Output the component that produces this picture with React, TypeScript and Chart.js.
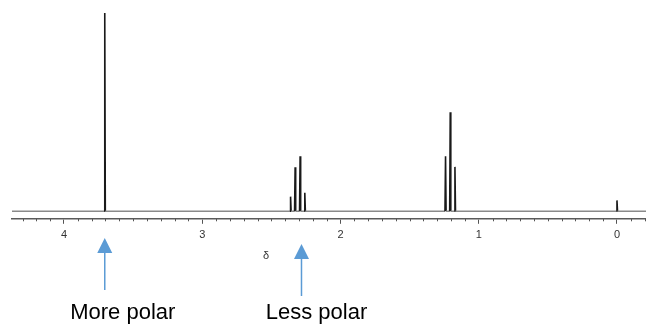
import React, { useEffect, useRef } from 'react';
import { Chart, registerables } from 'chart.js';

Chart.register(...registerables);

// Chemical shifts (ppm) and relative intensities of the stick peaks
const peakShifts = [3.705, 2.361, 2.328, 2.292, 2.258, 1.24, 1.206, 1.172, 0.0];
const peakHeights = [100, 7.4, 22.2, 27.7, 9.3, 27.7, 49.9, 22.4, 5.5];

// Axis
const majorTicks = [4, 3, 2, 1, 0];
const tickLabels = ['4', '3', '2', '1', '0'];
const axisTitle = 'δ';
const X_MIN = -0.21;
const X_MAX = 4.376;
const MINOR_STEP = 0.1;

// Annotations
const arrowShifts = [3.705, 2.282];
const arrowLabels = ['More polar', 'Less polar'];

const STICK_HALF = 0.004;

function buildPoints() {
  const order = peakShifts.map((_, i) => i).sort((a, b) => peakShifts[b] - peakShifts[a]);
  const pts: { x: number; y: number }[] = [{ x: X_MAX, y: 0 }];
  for (const i of order) {
    const p = peakShifts[i];
    pts.push({ x: p + STICK_HALF, y: 0 });
    pts.push({ x: p, y: peakHeights[i] });
    pts.push({ x: p - STICK_HALF, y: 0 });
  }
  pts.push({ x: X_MIN, y: 0 });
  return pts;
}

const FONT = '"Liberation Sans", Arial, Helvetica, sans-serif';

const overlay = {
  id: 'overlay',
  afterDraw(chart: any) {
    const ctx = chart.ctx as CanvasRenderingContext2D;
    const xs = chart.scales.x;
    const bottom = chart.chartArea.bottom;
    ctx.save();
    // minor ticks
    ctx.strokeStyle = '#555';
    ctx.lineWidth = 1;
    const start = Math.ceil(X_MIN / MINOR_STEP);
    const end = Math.floor(X_MAX / MINOR_STEP);
    for (let i = start; i <= end; i++) {
      if (i % 10 === 0) continue;
      const px = Math.round(xs.getPixelForValue(i * MINOR_STEP)) + 0.5;
      ctx.beginPath();
      ctx.moveTo(px, bottom);
      ctx.lineTo(px, bottom + 2.5);
      ctx.stroke();
    }
    // axis title (delta)
    ctx.fillStyle = '#333';
    ctx.font = '11px ' + FONT;
    ctx.textAlign = 'center';
    ctx.textBaseline = 'middle';
    ctx.fillText(axisTitle, 266, 256);

    // arrows
    const tips = [238, 244];
    const bases = [253, 259];
    const ends = [290, 296];
    const textOffsets = [18, 15];
    arrowShifts.forEach((s, i) => {
      const x = xs.getPixelForValue(s);
      ctx.strokeStyle = '#5b9bd5';
      ctx.fillStyle = '#5b9bd5';
      ctx.lineWidth = 1.5;
      ctx.beginPath();
      ctx.moveTo(x, bases[i] - 1);
      ctx.lineTo(x, ends[i]);
      ctx.stroke();
      ctx.beginPath();
      ctx.moveTo(x, tips[i]);
      ctx.lineTo(x - 7.5, bases[i]);
      ctx.lineTo(x + 7.5, bases[i]);
      ctx.closePath();
      ctx.fill();
      ctx.fillStyle = '#000';
      ctx.font = '22px ' + FONT;
      ctx.textAlign = 'center';
      ctx.textBaseline = 'alphabetic';
      ctx.fillText(arrowLabels[i], x + textOffsets[i], 319);
    });
    ctx.restore();
  },
};

export default function App() {
  const ref = useRef<HTMLCanvasElement | null>(null);
  useEffect(() => {
    if (!ref.current) return;
    const chart = new Chart(ref.current, {
      type: 'line',
      data: {
        datasets: [
          {
            data: buildPoints(),
            borderColor: '#1a1a1a',
            borderWidth: 1.6,
            pointRadius: 0,
            tension: 0,
            fill: false,
            segment: {
              borderColor: (c: any) =>
                c.p0.parsed.y === 0 && c.p1.parsed.y === 0 ? '#8a8a8a' : '#1a1a1a',
            },
          },
        ],
      },
      options: {
        responsive: false,
        animation: false,
        devicePixelRatio: 1,
        layout: { padding: { left: 12, right: 0, top: 0, bottom: 77 } },
        plugins: { legend: { display: false }, tooltip: { enabled: false } },
        scales: {
          x: {
            type: 'linear',
            reverse: true,
            min: X_MIN,
            max: X_MAX,
            afterBuildTicks: (scale: any) => {
              scale.ticks = majorTicks.map((v) => ({ value: v }));
            },
            ticks: {
              color: '#333',
              font: { size: 11, family: FONT },
              padding: 5,
              maxRotation: 0,
              autoSkip: false,
              callback: (v: any) => {
                const idx = majorTicks.indexOf(Number(v));
                return idx >= 0 ? tickLabels[idx] : '';
              },
            },
            grid: {
              display: true,
              drawOnChartArea: false,
              drawTicks: true,
              tickLength: 5,
              tickColor: '#555',
              tickWidth: 1,
            },
            border: { display: true, color: '#5a5a5a', width: 1.6 },
          },
          y: {
            display: false,
            min: -3.78,
            max: 106.55,
          },
        },
      },
      plugins: [overlay],
    });
    return () => chart.destroy();
  }, []);
  return (
    <div style={{ position: 'fixed', left: 0, top: 0, width: 646, height: 324, background: '#fff' }}>
      <canvas ref={ref} width={646} height={324} style={{ width: 646, height: 324 }} />
    </div>
  );
}
